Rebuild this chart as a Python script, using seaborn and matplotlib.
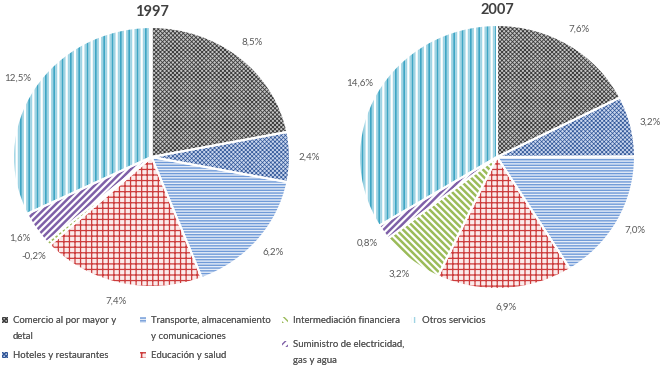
import matplotlib.pyplot as plt
import matplotlib.patches as mpatches
from matplotlib.legend_handler import HandlerPatch
import seaborn as sns

# Datos
sectores = [
    "Comercio al por mayor y\ndetal",
    "Hoteles y restaurantes",
    "Transporte, almacenamiento\ny comunicaciones",
    "Educación y salud",
    "Intermediación financiera",
    "Suministro de electricidad,\ngas y agua",
    "Otros servicios",
]
valores_1997 = [8.5, 2.4, 6.2, 7.4, -0.2, 1.6, 12.5]
valores_2007 = [7.6, 3.2, 7.0, 6.9, 3.2, 0.8, 14.6]
anios = ["1997", "2007"]

# Estilo de cada sector: trama, color de trama, fondo, grosor de trama
tramas = ["xxxxxxxx", "xxxxxxxx", "------", "+++", "\\\\\\\\\\", "/////", "||||"]
color_trama = ["#3c3c3c", "#2f5597", "#6f9ad8", "#cc3b3b", "#9bbb59", "#7f60a8", "#9fd4e4"]
color_fondo = ["#c6c6c6", "#c9d6ee", "#e6edf8", "#fbeaea", "#ffffff", "#ffffff", "#ffffff"]
grosor_trama = [0.6, 0.5, 1.0, 0.9, 1.8, 1.8, 1.4]

sns.set_theme(style="white")
plt.rcParams["font.family"] = ["Lato", "DejaVu Sans"]
plt.rcParams["hatch.linewidth"] = 1.0

gris = "#595959"

fig = plt.figure(figsize=(6.63, 3.70), dpi=100)

# posiciones de los ejes en pixeles (x centro, y centro, ancho, alto)
cajas = [(151.5, 157, 277, 260), (497, 157, 276, 264)]
W, H = 663, 370


def aplicar_trama(parche, i):
    parche.set_hatch(tramas[i])
    parche.set_edgecolor(color_trama[i])
    if hasattr(parche, "set_hatch_linewidth"):
        parche.set_hatch_linewidth(grosor_trama[i])


for anio, valores, (cx, cy, w, h) in zip(anios, [valores_1997, valores_2007], cajas):
    ax = fig.add_axes([(cx - w / 2) / W, (H - cy - h / 2) / H, w / W, h / H])
    tamanos = [abs(v) for v in valores]
    etiquetas = [f"{v:.1f}%".replace(".", ",") for v in valores]
    wedges, textos = ax.pie(
        tamanos, labels=etiquetas, startangle=90, counterclock=False,
        labeldistance=1.14, colors=color_fondo,
        wedgeprops=dict(linewidth=0),
        textprops=dict(fontsize=7, color=gris),
    )
    for i, wd in enumerate(wedges):
        aplicar_trama(wd, i)
    for t in textos:
        t.set_horizontalalignment("center")
        t.set_verticalalignment("center")
    # rayas turquesa de "Otros servicios" sobre las celestes
    extra, _ = ax.pie(tamanos, startangle=90, counterclock=False,
                      wedgeprops=dict(facecolor="none", linewidth=0))
    for i, wd in enumerate(extra):
        if i == len(extra) - 1:
            wd.set_hatch("||")
            wd.set_edgecolor("#3ea6c4")
            if hasattr(wd, "set_hatch_linewidth"):
                wd.set_hatch_linewidth(1.4)
        else:
            wd.set_visible(False)
    # bordes blancos entre sectores
    ax.pie(tamanos, startangle=90, counterclock=False,
           wedgeprops=dict(facecolor="none", edgecolor="white", linewidth=1.5))
    ax.set_aspect("auto")
    ax.set_xlim(-1, 1)
    ax.set_ylim(-1, 1)
    ax.set_title(anio, fontsize=10.5, fontweight="bold", color="#404040", pad=8)


# el icono de la leyenda va a la altura de la primera linea del texto
def icono_arriba(n_lineas):
    def crear(legend, orig_handle, xdescent, ydescent, width, height, fontsize):
        dy = (n_lineas - 1) * 6.5
        return mpatches.Rectangle((-xdescent, -ydescent + dy), width, height)
    return HandlerPatch(patch_func=crear)


# Leyenda: una entrada por posicion (x, y de la primera linea) en pixeles
pos_leyenda = [(2, 322), (2, 357), (140, 322), (140, 357), (282, 322), (282, 346), (411, 322)]
for i, (xp, yp) in enumerate(pos_leyenda):
    p = mpatches.Patch(facecolor=color_fondo[i], linewidth=0)
    aplicar_trama(p, i)
    n = sectores[i].count("\n") + 1
    leg = fig.legend([p], [sectores[i]], loc="upper left",
                     bbox_to_anchor=(xp / W, 1 - (yp - 6) / H), frameon=False,
                     fontsize=6.9, labelcolor=gris, handlelength=0.6,
                     handleheight=0.6, handletextpad=0.5,
                     borderpad=0, borderaxespad=0,
                     handler_map={p: icono_arriba(n)})
    for t in leg.get_texts():
        t.set_linespacing(2.0)
    fig.add_artist(leg)

fig.savefig("out.png", dpi=100, facecolor="white")
